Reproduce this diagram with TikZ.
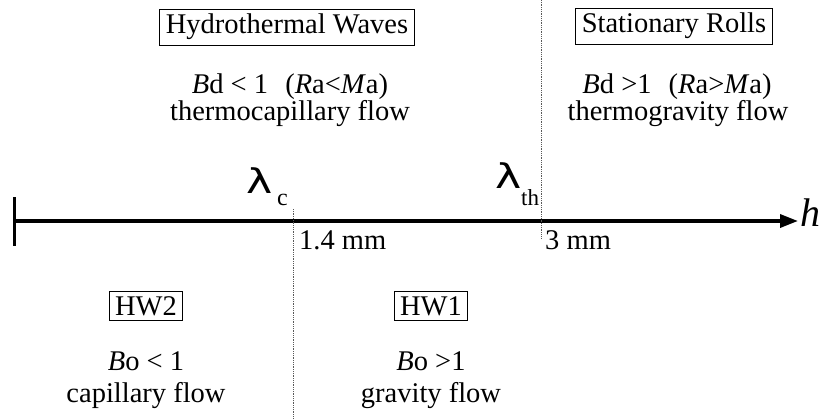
\documentclass[tikz,border=0pt]{standalone}
\usepackage{fontspec}
\setmainfont{Liberation Serif}
\newfontfamily\lamfont{DejaVu Sans}
\usetikzlibrary{arrows.meta}
\tikzset{
  txt/.style={inner sep=0pt, font=\fontsize{28.5}{30}\selectfont},
  boxed/.style={draw, line width=0.8pt, inner xsep=6pt, inner ysep=5pt, font=\fontsize{28.5}{30}\selectfont},
  guide/.style={densely dotted, line width=0.8pt, gray!70!black},
  axis/.style={line width=3.5pt},
  lam/.style={inner sep=0pt, anchor=base west}
}
\begin{document}
\begin{tikzpicture}[x=1pt,y=-1pt]
\useasboundingbox (0,0) rectangle (825,420);
% axis
\coordinate (a0) at (14,221);
\coordinate (a1) at (798,221);
\coordinate (t0) at (14,197);
\coordinate (t1) at (14,246);
\draw[axis, -{Triangle[length=18pt,width=13pt]}] (a0) -- (a1);
\draw[line width=3pt] (t0) -- (t1);
\node[inner sep=0pt, anchor=base west, font=\fontsize{40}{40}\selectfont\itshape] (h) at (800,226) {h};
% guides
\coordinate (g1a) at (293,209);
\coordinate (g1b) at (293,420);
\coordinate (g2a) at (541,0);
\coordinate (g2b) at (541,238);
\draw[guide] (g1a) -- (g1b);
\draw[guide] (g2a) -- (g2b);
% lambda labels
\node[lam, font=\fontsize{34}{34}\selectfont\lamfont] (lc) at (246,193) {\scalebox{1.3}[1]{λ}};
\node[lam, font=\fontsize{24}{24}\selectfont] (lcs) at (277,205) {c};
\node[lam, font=\fontsize{34}{34}\selectfont\lamfont] (lt) at (495,188) {\scalebox{1.3}[1]{λ}};
\node[lam, font=\fontsize{23}{23}\selectfont] (lts) at (521,205) {th};
% tick values
\node[txt, anchor=base west] (v1) at (299,249) {1.4 mm};
\node[txt, anchor=base west] (v2) at (545,249) {3 mm};
% top left
\node[boxed] (hw) at (287,27) {Hydrothermal Waves};
\node[txt, anchor=base] (bd1) at (290,94) {\textit{B}d < 1\hspace{0.6em}(\textit{R}a<\textit{M}a)};
\node[txt, anchor=base] (tc) at (290,121) {thermocapillary flow};
% top right
\node[boxed] (sr) at (674,26) {Stationary Rolls};
\node[txt, anchor=base] (bd2) at (677,94) {\textit{B}d >1\hspace{0.6em}(\textit{R}a>\textit{M}a)};
\node[txt, anchor=base] (tg) at (678,121) {thermogravity flow};
% bottom left
\node[boxed] (hw2) at (146,306) {HW2};
\node[txt, anchor=base] (bo1) at (146,370) {\textit{B}o < 1};
\node[txt, anchor=base] (cf) at (146,402) {capillary flow};
% bottom middle
\node[boxed] (hw1) at (431,306) {HW1};
\node[txt, anchor=base] (bo2) at (431,370) {\textit{B}o >1};
\node[txt, anchor=base] (gf) at (431,402) {gravity flow};
\end{tikzpicture}
\end{document}
